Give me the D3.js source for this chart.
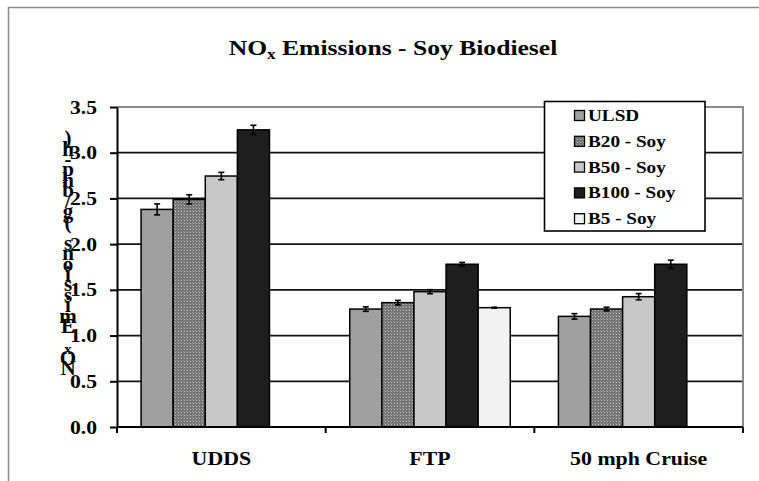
<!DOCTYPE html>
<html><head><meta charset="utf-8">
<script src="https://cdn.jsdelivr.net/npm/d3@7"></script>
<style>html,body{margin:0;padding:0;background:#fff;}svg{display:block;}</style>
</head><body>
<svg id="chart" width="759" height="481"></svg>
<script>
const categories = ["UDDS", "FTP", "50 mph Cruise"];
const seriesNames = ["ULSD", "B20 - Soy", "B50 - Soy", "B100 - Soy", "B5 - Soy"];
const ulsd = [2.38, 1.29, 1.21];
const b20 = [2.49, 1.36, 1.29];
const b50 = [2.745, 1.48, 1.425];
const b100 = [3.25, 1.78, 1.78];
const b5 = [null, 1.305, null];
const ulsdErr = [0.06, 0.025, 0.03];
const b20Err = [0.05, 0.025, 0.02];
const b50Err = [0.04, 0.022, 0.034];
const b100Err = [0.05, 0.02, 0.045];
const b5Err = [null, 0.005, null];
const yTicks = [0, 0.5, 1.0, 1.5, 2.0, 2.5, 3.0, 3.5];
const titleMain = "NO", titleSub = "x", titleRest = " Emissions - Soy Biodiesel";
const yTitle = "NOx Emissions (g/bhp-h)";

const seriesValues = [ulsd, b20, b50, b100, b5];
const seriesErrs = [ulsdErr, b20Err, b50Err, b100Err, b5Err];
const fills = ["#a0a0a0", "url(#checker)", "#c8c8c8", "#1e1e1e", "#f2f2f2"];

const svg = d3.select("#chart");
const FONT = "'Liberation Serif','Times New Roman',serif";
const SX = 1.2;

// pattern
const defs = svg.append("defs");
const pat = defs.append("pattern").attr("id", "checker").attr("patternUnits", "userSpaceOnUse")
  .attr("width", 3).attr("height", 3);
pat.append("rect").attr("width", 3).attr("height", 3).attr("fill", "#727272");
pat.append("rect").attr("x", 1).attr("y", 1).attr("width", 1).attr("height", 1).attr("fill", "#c4c4c4");
pat.append("rect").attr("x", 0).attr("y", 0).attr("width", 1).attr("height", 1).attr("fill", "#9a9a9a");

// outer chart border
svg.append("path").attr("d", "M8.5,481 L8.5,7.5 L759,7.5").attr("fill", "none")
  .attr("stroke", "#8a8a8a").attr("stroke-width", 1.5);

const L = 117, R = 743, T = 107, B = 427;
const y = d3.scaleLinear().domain([0, 3.5]).range([B, T]);
const x = d3.scaleBand().domain(categories).range([L, R]).padding(0);
const xs = d3.scaleBand().domain(seriesNames).range([0, x.bandwidth()]).paddingInner(0).paddingOuter(0.75);

// gridlines
svg.append("g").selectAll("line").data(yTicks.filter(v => v > 0 && v < 3.5)).join("line")
  .attr("x1", L).attr("x2", R).attr("y1", d => y(d)).attr("y2", d => y(d))
  .attr("stroke", "#111").attr("stroke-width", 1.7);

// plot border top & right (gray)
svg.append("path").attr("d", `M${L},${y(3.5)} L${R},${y(3.5)} L${R},${B}`)
  .attr("fill", "none").attr("stroke", "#8a8a8a").attr("stroke-width", 2);

// bars
const data = [];
categories.forEach((c, ci) => seriesNames.forEach((s, si) => {
  const v = seriesValues[si][ci];
  if (v != null) data.push({ c, s, si, v, e: seriesErrs[si][ci] });
}));
const gb = svg.append("g");
gb.selectAll("rect").data(data).join("rect")
  .attr("x", d => x(d.c) + xs(d.s))
  .attr("y", d => y(d.v))
  .attr("width", xs.bandwidth())
  .attr("height", d => y(0) - y(d.v))
  .attr("fill", d => fills[d.si])
  .attr("stroke", "#000").attr("stroke-width", 1.5);

// error bars
const ge = svg.append("g").attr("stroke", "#000").attr("stroke-width", 1.6);
data.forEach(d => {
  const cx = x(d.c) + xs(d.s) + xs.bandwidth() / 2;
  const y1 = y(d.v + d.e), y2 = y(d.v - d.e);
  ge.append("line").attr("x1", cx).attr("x2", cx).attr("y1", y1).attr("y2", y2);
  ge.append("line").attr("x1", cx - 3).attr("x2", cx + 3).attr("y1", y1).attr("y2", y1);
  ge.append("line").attr("x1", cx - 3).attr("x2", cx + 3).attr("y1", y2).attr("y2", y2);
});

// y axis
const yAxis = svg.append("g").attr("transform", `translate(${L},0)`)
  .call(d3.axisLeft(y).tickValues(yTicks).tickSize(7).tickSizeOuter(0).tickFormat(d3.format(".1f")));
yAxis.select(".domain").attr("stroke", "#000").attr("stroke-width", 2);
yAxis.selectAll(".tick line").attr("stroke", "#000").attr("stroke-width", 2);
yAxis.selectAll(".tick text").attr("x", null).attr("dy", "0.34em")
  .attr("transform", `translate(-20,0) scale(${SX},1)`)
  .attr("font-family", FONT).attr("font-weight", "bold").attr("font-size", 18).attr("fill", "#000");

// x axis
svg.append("line").attr("x1", L).attr("x2", R).attr("y1", B).attr("y2", B)
  .attr("stroke", "#000").attr("stroke-width", 2);
const bounds = categories.map(c => x(c)).concat([x.range()[1]]);
svg.append("g").selectAll("line").data(bounds).join("line")
  .attr("x1", d => d).attr("x2", d => d).attr("y1", B).attr("y2", B + 6)
  .attr("stroke", "#000").attr("stroke-width", 2);
svg.append("g").selectAll("text").data(categories).join("text")
  .attr("transform", d => `translate(${x(d) + x.bandwidth() / 2},465) scale(1.15,1)`)
  .attr("text-anchor", "middle").attr("font-family", FONT).attr("font-weight", "bold")
  .attr("font-size", 19).text(d => d);

// title
const tt = svg.append("text").attr("transform", `translate(393,55) scale(1.22,1)`)
  .attr("text-anchor", "middle").attr("font-family", FONT).attr("font-weight", "bold").attr("font-size", 21);
tt.append("tspan").text(titleMain);
tt.append("tspan").attr("font-size", 14).attr("dy", 4).text(titleSub);
tt.append("tspan").attr("dy", -4).text(titleRest);

// y axis title: stacked characters, read bottom-up
const chars = Array.from(yTitle);
svg.append("g").selectAll("text").data(chars).join("text")
  .attr("x", 68).attr("y", (d, i) => 375 - i * 10.45)
  .attr("text-anchor", "middle").attr("font-family", FONT).attr("font-weight", "bold")
  .attr("font-size", (d, i) => i === 2 ? 15 : 21).text(d => d);

// legend
const lg = svg.append("g");
lg.append("rect").attr("x", 544.5).attr("y", 101.5).attr("width", 160.5).attr("height", 129.5)
  .attr("fill", "#fff").attr("stroke", "#000").attr("stroke-width", 1.6);
seriesNames.forEach((s, i) => {
  const cy = 115.5 + i * 25.8;
  lg.append("rect").attr("x", 574.5).attr("y", cy - 5).attr("width", 10).attr("height", 10)
    .attr("fill", fills[i]).attr("stroke", "#000").attr("stroke-width", 1.3);
  lg.append("text").attr("transform", `translate(588,${cy + 5.5}) scale(${SX},1)`)
    .attr("font-family", FONT).attr("font-weight", "bold").attr("font-size", 16).text(s);
});
</script>
</body></html>
